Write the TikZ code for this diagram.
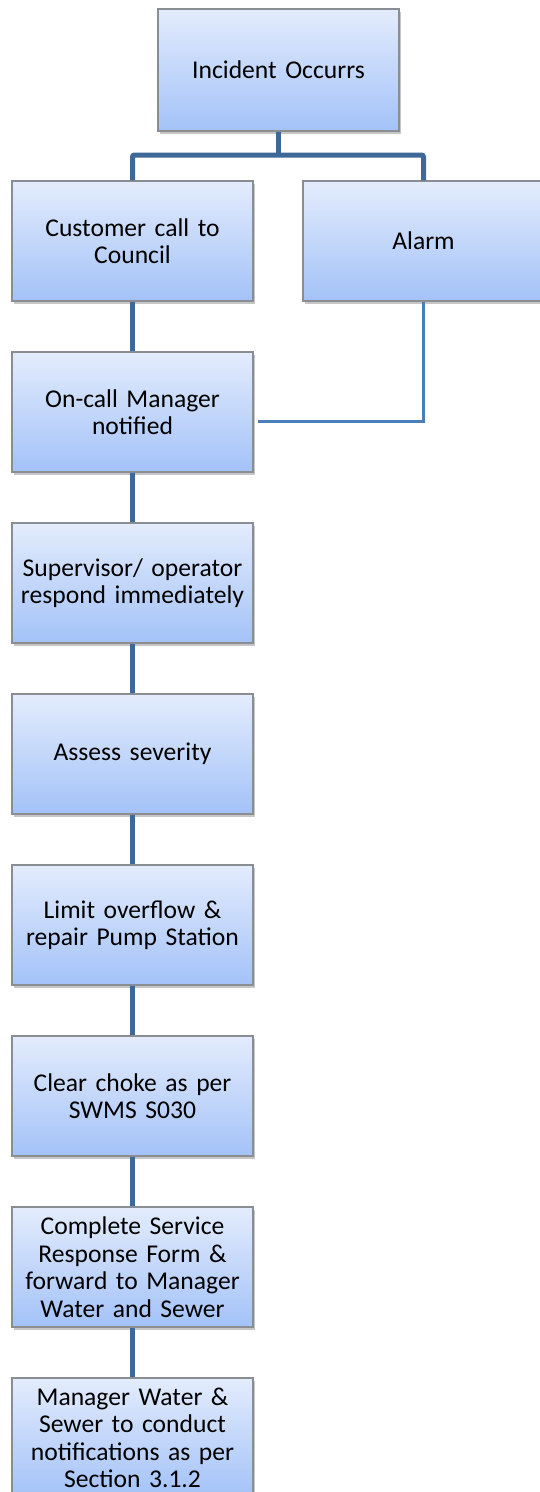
\documentclass[tikz,border=0pt]{standalone}
\usepackage{fontspec}
\setmainfont{Carlito}
\usepackage{xcolor}
\usepackage{tikz}
\usetikzlibrary{calc}
\usetikzlibrary{positioning}
\usetikzlibrary{shadows}
\definecolor{boxtop}{HTML}{E3ECFC}
\definecolor{boxbot}{HTML}{A3C2F8}
\definecolor{boxrim}{HTML}{8A8D92}
\definecolor{trunkblue}{HTML}{3E6898}
\definecolor{feedblue}{HTML}{4A7EBB}
\tikzstyle{block}    = [rectangle, draw=boxrim, line width=1.2pt, top color=boxtop, bottom color=boxbot, text width=238pt, align=center, inner sep=0pt, minimum width=241pt, minimum height=120pt, font=\fontsize{25.6pt}{27.5pt}\selectfont, drop shadow={opacity=0.45, shadow xshift=2pt, shadow yshift=-3pt}]
\tikzstyle{line}     = [draw=trunkblue, line width=5pt]
\tikzstyle{feed}     = [draw=feedblue, line width=3.2pt]

\begin{document}
\begin{tikzpicture}[node distance = 171pt, auto]
        \useasboundingbox (0,0) rectangle (539pt,-1492pt);
        \node [block, minimum height=122pt] (inc) at (278.5pt,-70pt) {Incident Occurrs};
        \node [block] (cust) at (132.5pt,-241pt) {Customer call to\\Council};
        \node [block] (alarm) at (423.5pt,-241pt) {Alarm};
        \node [block, below of=cust] (oncall) {On-call Manager\\notified};
        \node [block, below of=oncall] (sup) {Supervisor/ operator\\respond immediately};
        \node [block, below of=sup] (assess) {Assess severity};
        \node [block, below of=assess] (limit) {Limit overflow \&\\repair Pump Station};
        \node [block, below of=limit] (clear) {Clear choke as per\\SWMS S030};
        \node [block, below of=clear] (form) {Complete Service\\Response Form \&\\forward to Manager\\Water and Sewer};
        \node [block, below of=form] (mgr) {Manager Water \&\\Sewer to conduct\\notifications as per\\Section 3.1.2};
        % branch from the incident to both sources
        \coordinate (split) at (0,-155pt);
        \path [line] (inc.south) -- (inc.south |- split);
        \path [line, rounded corners=2pt] (cust.north) |- (alarm.north |- split) -- (alarm.north);
        % main chain
        \foreach \a/\b in {cust/oncall, oncall/sup, sup/assess, assess/limit, limit/clear, clear/form, form/mgr}
            \path [line] (\a.south) -- (\b.north);
        % alarm feeds the on-call manager
        \coordinate (oncallin) at ($(oncall.east)+(4pt,-9.5pt)$);
        \path [feed] (alarm.south) |- (oncallin);
    \end{tikzpicture}
\end{document}
